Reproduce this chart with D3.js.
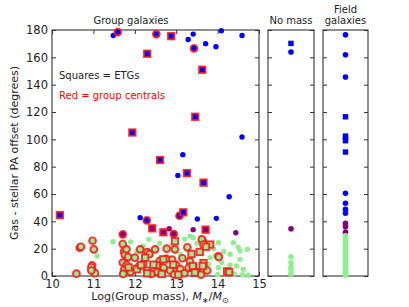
<!DOCTYPE html>
<html>
<head>
<meta charset="utf-8">
<script src="https://cdn.jsdelivr.net/npm/d3@7"></script>
<style>
body { margin: 0; background: #fff; }
text { font-family: "DejaVu Sans", sans-serif; fill: #222; }
</style>
</head>
<body>
<svg id="chart" width="409" height="307"></svg>
<script>
// ---- data: [log group mass, PA offset] ----
var groupCircles = [
  [11.48,176],[13.29,173],[13.41,177],[13.71,170],[13.96,167.8],[14.09,179.5],[14.59,176],
  [14.59,101.7],[13.16,88.8],[13.04,73.6],[14.28,58],[12.13,42.7],[13.51,41.7],[13.97,42.2],
  [12.83,34.6],[13.41,33.9],[14.44,31.7],
  [11.47,25.1],[11.09,14.6],[12.34,26.8],[13.33,29.2],[13.41,28],[14.02,24.4],[14.30,15.9],
  [14.54,18.3],[14.72,19.5],[14.38,24.4],[14.54,12.2],[14.02,6.1],[14.62,4.9],[14.46,7.3],
  [14.74,0.5],[13.82,13.4],[13.78,8.6],[14.1,10],[14.2,3],[14.4,1.5],[14.6,1],[13.9,20],
  [13.6,28],[13.2,27],[12.6,24],[12.9,22],[12.2,22],[12.05,18],[13.1,16],[13.5,24],[14.15,18],
  [14.0,1],[13.95,15],[12.8,14],[12.4,15],[11.9,25],[13.0,3],[12.7,2],[14.3,8],[14.5,21]
];
var groupCentralCircles = [
  [11.59,178.5],[12.52,177],[13.43,166.6],[12.29,40.7],[13.08,44.1],
  [12.94,30.7],[11.71,30.5],
  [10.98,25.8],[10.67,20.7],[10.70,21.4],[11.01,19.5],[10.97,7.8],[10.95,6.4],[11.01,2.9],
  [10.59,1.7],[11.04,2],[10.95,4],[11.71,23.4],[11.74,17.8],[11.76,15.5],[11.84,13.9],
  [11.71,9.8],[11.8,8],[11.74,4.4],[11.72,1.5],[11.9,3],[12.0,13.4],[12.13,19.5],[11.80,19.5],
  [12.3,17.5],[12.35,16],[12.49,19.5],[12.77,20],[12.97,19.5],[13.27,21],[13.64,25.8],
  [13.62,26.8],[13.66,23],[14.02,14.4],[14.03,13.9],[13.33,10.7],[12.9,12],[12.6,11],[12.2,9],
  [12.3,4],[12.4,1.5],[12.55,3],[12.7,6],[12.85,4],[12.95,1],[13.0,8],[13.1,5],[13.2,2],
  [13.3,6],[13.5,3],[13.6,1],[13.75,4],[12.1,7],[12.75,12.5],[13.15,13]
];
var groupCentralSquares = [
  [12.30,162.6],[12.88,175.5],[13.63,150.9],[13.46,116.5],[11.94,105],[12.61,84.9],
  [13.26,75.3],[13.66,68.3],[10.19,44.6],[13.17,46.6],
  [12.42,34.9],[12.69,32],[13.71,33.9],
  [11.85,6.3],[12.05,4.9],[12.25,13.4],[12.53,7.8],[12.69,12.2],[12.97,25.4],[13.82,23],
  [13.57,17.6],[13.37,16.1],[13.66,9.5],[12.45,8.3],[12.93,8.3],[13.41,6.4],[14.23,3.4],
  [13.72,21.4],[13.64,7.3],[13.40,7.3],[14.28,2.9],[12.3,2],[12.65,1.5],[13.05,1],
  [13.45,2.5],[12.15,8]
];
// PA offsets only
var noMassCircles = [163.9, 34.6, 14.1, 9.7, 6.5, 4.4, 1.5];
var noMassSquares = [170.2];
var fieldCircles = [176.5, 161.9, 145.6, 60.5, 53.2, 48.8, 45.9, 38.5, 36.1, 32,
  29.5, 28.5, 27.5, 26, 25, 23.5, 22, 21, 19.5, 18, 17, 15.5, 14, 12.5, 11, 10, 8.5, 7, 6,
  4.5, 3.5, 2.5, 1.5, 0.5];
var fieldSquares = [116.5, 102.4, 101, 99, 90.7];

var xTicks = [10, 11, 12, 13, 14, 15];
var yTicks = [0, 20, 40, 60, 80, 100, 120, 140, 160, 180];

var svg = d3.select("#chart");

var main = {left: 52, right: 259, top: 30, bottom: 276};
var noMass = {left: 268, right: 314};
var field = {left: 323, right: 368};

var x = d3.scaleLinear().domain([10, 15]).range([main.left, main.right]);
var y = d3.scaleLinear().domain([0, 180]).range([main.bottom, main.top]);

function colour(v) {
  return v >= 40 ? "#0000ff" : v >= 30 ? "#800080" : "#90ee90";
}

// axes: inward ticks
function yAxes(p, labels) {
  var l = svg.append("g").attr("transform", "translate(" + p.left + ",0)")
    .call(d3.axisLeft(y).tickValues(yTicks).tickFormat(d3.format("d"))
      .tickSizeInner(-4).tickSizeOuter(0).tickPadding(4));
  if (!labels) l.selectAll("text").remove();
  l.selectAll("text").style("font-size", "11.5px").attr("fill", "#222");
  var r = svg.append("g").attr("transform", "translate(" + p.right + ",0)")
    .call(d3.axisRight(y).tickValues(yTicks).tickSizeInner(-4).tickSizeOuter(0));
  r.selectAll("text").remove();
  [l, r].forEach(function(g) {
    g.select(".domain").remove();
    g.selectAll("line").attr("stroke", "#333");
  });
}
yAxes(main, true);
yAxes(noMass, false);
yAxes(field, false);

var xb = svg.append("g").attr("transform", "translate(0," + main.bottom + ")")
  .call(d3.axisBottom(x).tickValues(xTicks).tickFormat(d3.format("d"))
    .tickSizeInner(-4).tickSizeOuter(0).tickPadding(4));
xb.selectAll("text").style("font-size", "11.5px").attr("fill", "#222");
var xt = svg.append("g").attr("transform", "translate(0," + main.top + ")")
  .call(d3.axisTop(x).tickValues(xTicks).tickSizeInner(-4).tickSizeOuter(0));
xt.selectAll("text").remove();
[xb, xt].forEach(function(g) {
  g.select(".domain").remove();
  g.selectAll("line").attr("stroke", "#333");
});

// frames
[main, noMass, field].forEach(function(p) {
  svg.append("rect")
    .attr("x", p.left).attr("y", main.top)
    .attr("width", p.right - p.left).attr("height", main.bottom - main.top)
    .attr("fill", "none").attr("stroke", "#333").attr("stroke-width", 1.1);
});

var plot = svg.append("g");

// group panel
plot.selectAll(".gc").data(groupCircles).enter().append("circle")
  .attr("cx", function(d) { return x(d[0]); })
  .attr("cy", function(d) { return y(d[1]); })
  .attr("r", 2.7)
  .attr("fill", function(d) { return colour(d[1]); });

plot.selectAll(".gcc").data(groupCentralCircles).enter().append("circle")
  .attr("cx", function(d) { return x(d[0]); })
  .attr("cy", function(d) { return y(d[1]); })
  .attr("r", 3.4)
  .attr("fill", function(d) { return colour(d[1]); })
  .attr("stroke", "#ff1a1a").attr("stroke-opacity", 0.9).attr("stroke-width", 1.9);

plot.selectAll(".gcs").data(groupCentralSquares).enter().append("rect")
  .attr("x", function(d) { return x(d[0]) - 3.2; })
  .attr("y", function(d) { return y(d[1]) - 3.2; })
  .attr("width", 6.4).attr("height", 6.4)
  .attr("fill", function(d) { return colour(d[1]); })
  .attr("stroke", "#ff1a1a").attr("stroke-opacity", 0.9).attr("stroke-width", 1.9);

// single-column panels
function column(p, circles, squares) {
  var cx = (p.left + p.right) / 2;
  plot.selectAll(null).data(circles).enter().append("circle")
    .attr("cx", cx).attr("cy", function(d) { return y(d); })
    .attr("r", 2.8).attr("fill", function(d) { return colour(d); });
  plot.selectAll(null).data(squares).enter().append("rect")
    .attr("x", cx - 2.7).attr("y", function(d) { return y(d) - 2.7; })
    .attr("width", 5.4).attr("height", 5.4)
    .attr("fill", function(d) { return colour(d); });
}
column(noMass, noMassCircles, noMassSquares);
column(field, fieldCircles, fieldSquares);

// titles and notes
svg.append("text").attr("x", 131).attr("y", 24).attr("text-anchor", "middle")
  .style("font-size", "10px").text("Group galaxies");
svg.append("text").attr("x", (noMass.left + noMass.right) / 2).attr("y", 24).attr("text-anchor", "middle")
  .style("font-size", "10px").text("No mass");
svg.append("text").attr("x", (field.left + field.right) / 2).attr("y", 13).attr("text-anchor", "middle")
  .style("font-size", "10px").text("Field");
svg.append("text").attr("x", (field.left + field.right) / 2).attr("y", 24).attr("text-anchor", "middle")
  .style("font-size", "10px").text("galaxies");

svg.append("text").attr("x", 59).attr("y", 79).style("font-size", "10px").text("Squares = ETGs");
svg.append("text").attr("x", 59).attr("y", 99).style("font-size", "10px")
  .style("fill", "red").text("Red = group centrals");

// axis labels
var xl = svg.append("text").attr("x", 160).attr("y", 300).attr("text-anchor", "middle")
  .style("font-size", "11px");
xl.append("tspan").text("Log(Group mass), ");
xl.append("tspan").style("font-style", "italic").text("M");
xl.append("tspan").attr("dy", 3).style("font-size", "8px").text("\u2217");
xl.append("tspan").attr("dy", -3).text("/");
xl.append("tspan").style("font-style", "italic").text("M");
xl.append("tspan").attr("dy", 3).style("font-size", "8px").text("\u2299");

svg.append("text")
  .attr("transform", "translate(18," + (main.top + main.bottom) / 2 + ") rotate(-90)")
  .attr("text-anchor", "middle").style("font-size", "11px")
  .text("Gas - stellar PA offset (degrees)");
</script>
</body>
</html>
